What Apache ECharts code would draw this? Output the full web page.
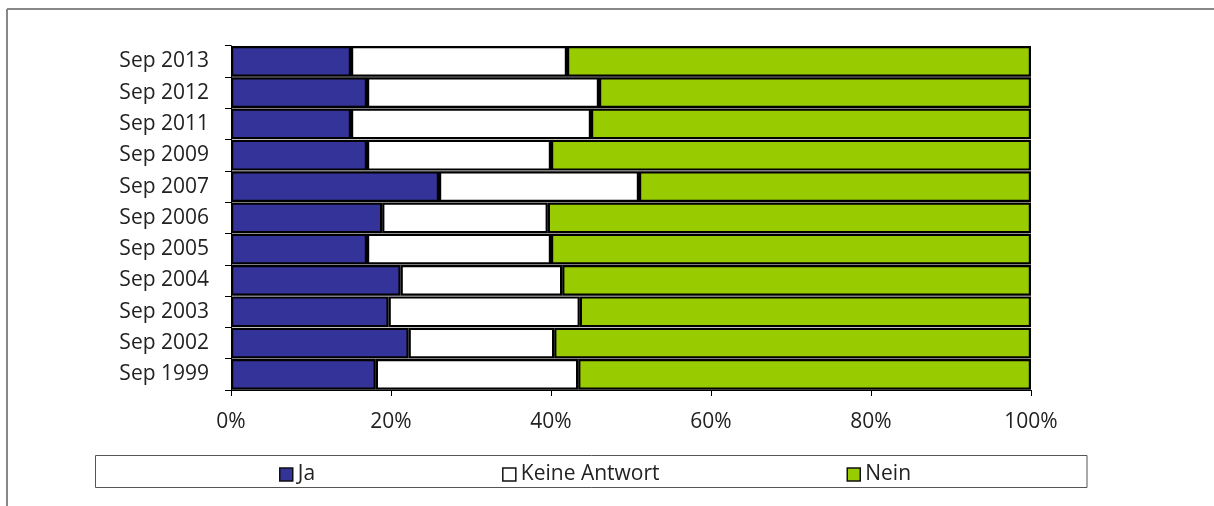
<!DOCTYPE html>
<html>
<head>
<meta charset="utf-8">
<script src="https://cdn.jsdelivr.net/npm/echarts@6/dist/echarts.min.js"></script>
<style>
html,body{margin:0;padding:0;background:#fff;}
#chart{width:1214px;height:506px;}
</style>
</head>
<body>
<div id="chart"></div>
<script>
const categories = ['Sep 1999','Sep 2002','Sep 2003','Sep 2004','Sep 2005','Sep 2006','Sep 2007','Sep 2009','Sep 2011','Sep 2012','Sep 2013'];
const ja =          [18.1, 22.2, 19.7, 21.2, 17.0, 18.9, 26.0, 17.0, 15.0, 17.0, 15.0];
const keineAntwort = [25.3, 18.2, 23.9, 20.2, 23.0, 20.7, 25.0, 23.0, 30.0, 29.0, 27.0];
const nein =        [56.6, 59.6, 56.4, 58.6, 60.0, 60.4, 49.0, 60.0, 55.0, 54.0, 58.0];
const xTicks = [0, 20, 40, 60, 80, 100];

const FONT = '"Open Sans", sans-serif';
const chart = echarts.init(document.getElementById('chart'), null, {renderer: 'canvas'});

const barStyle = (color) => ({color: color, borderColor: '#000', borderWidth: 2.2});

chart.setOption({
  animation: false,
  backgroundColor: '#fff',
  textStyle: {fontFamily: FONT},
  grid: {left: 231, right: 183, top: 45.7, bottom: 116, containLabel: false},
  xAxis: {
    type: 'value', min: 0, max: 100, interval: 20,
    axisLine: {show: true, lineStyle: {color: '#000', width: 1}},
    axisTick: {show: true, length: 6, lineStyle: {color: '#000'}},
    splitLine: {show: false},
    axisLabel: {
      margin: 22, color: '#222', fontSize: 21, fontFamily: FONT,
      formatter: (v) => xTicks.indexOf(v) >= 0 ? v + '%' : ''
    }
  },
  yAxis: {
    type: 'category', data: categories,
    axisLine: {show: true, lineStyle: {color: '#000', width: 1}},
    axisTick: {show: true, length: 6, lineStyle: {color: '#000'}},
    axisLabel: {margin: 22, color: '#222', fontSize: 21, fontFamily: FONT}
  },
  legend: {
    left: 274, top: 459,
    itemWidth: 13, itemHeight: 13, itemGap: 187,
    icon: 'rect',
    textStyle: {fontSize: 21, color: '#222', fontFamily: FONT},
    data: [
      {name: 'Ja', itemStyle: {color: '#333399', borderColor: '#111', borderWidth: 1.5}},
      {name: 'Keine Antwort', itemStyle: {color: '#fff', borderColor: '#111', borderWidth: 1.5}},
      {name: 'Nein', itemStyle: {color: '#99CC00', borderColor: '#111', borderWidth: 1.5}}
    ]
  },
  graphic: [
    {type: 'line', shape: {x1: 7, y1: 9, x2: 1214, y2: 9}, style: {stroke: '#888', lineWidth: 2}, silent: true},
    {type: 'line', shape: {x1: 7, y1: 9, x2: 7, y2: 506}, style: {stroke: '#888', lineWidth: 2}, silent: true},
    {type: 'rect', shape: {x: 95.5, y: 455.5, width: 991.5, height: 32}, style: {fill: 'none', stroke: '#555', lineWidth: 1}, silent: true, z: -1}
  ],
  series: [
    {name: 'Ja', type: 'bar', stack: 'total', data: ja, barCategoryGap: '2%', itemStyle: barStyle('#333399')},
    {name: 'Keine Antwort', type: 'bar', stack: 'total', data: keineAntwort, barCategoryGap: '2%', itemStyle: barStyle('#ffffff')},
    {name: 'Nein', type: 'bar', stack: 'total', data: nein, barCategoryGap: '2%', itemStyle: barStyle('#99CC00')}
  ]
});
</script>
</body>
</html>
